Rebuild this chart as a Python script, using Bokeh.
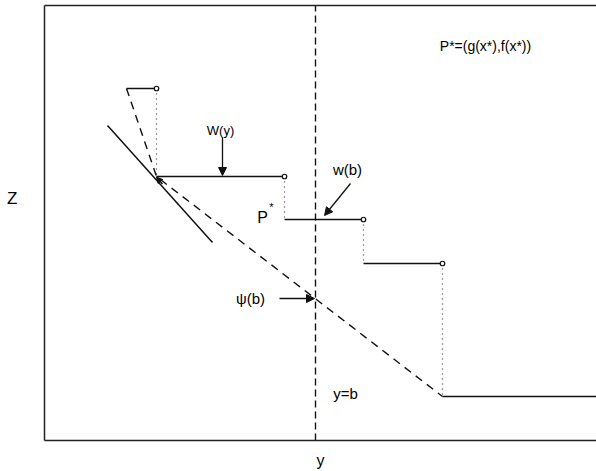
from bokeh.plotting import figure
from bokeh.models import LinearAxis, FixedTicker, Arrow, NormalHead, Range1d, ColumnDataSource
from bokeh.core.properties import value
from bokeh.embed import file_html
from bokeh.resources import INLINE

FONT = "Liberation Sans"

# ---- data (abstract y / Z units) ----
step_x = [82, 112, 240, 319, 398, 552]      # breakpoints of the step function w(y)
step_z = [352, 264, 221, 177, 44]           # levels of each step
psi_x = [82, 112, 398]                      # dashed envelope psi
psi_z = [352, 264, 44]
tangent_x = [63, 168]                       # solid supporting line
tangent_z = [315, 198]
b_value = 271                               # y = b
arrow_x0 = [178, 306, 235, 118]
arrow_z0 = [303, 257, 142, 256.5]
arrow_x1 = [178, 280, 270, 112]
arrow_z1 = [265, 225, 142, 263.5]
label_text = ["W(y)", "w(b)", "P", "*", "\u03c8(b)", "y=b", "P*=(g(x*),f(x*))"]
label_x = [176, 303, 218, 227, 206, 301, 441]
label_z = [310, 271, 223, 234, 142, 47, 395]
label_size = ["13px", "15px", "16px", "11px", "15px", "15px", "14px"]

p = figure(width=596, height=471, x_range=Range1d(0, 552), y_range=Range1d(0, 435),
           output_backend="svg", toolbar_location=None,
           min_border_left=44, min_border_right=0, min_border_top=5, min_border_bottom=31,
           x_axis_label="y", y_axis_label="Z\n\n")
p.outline_line_color = None
p.grid.visible = False

top = LinearAxis()
p.add_layout(top, "above")
for ax in p.axis:
    ax.ticker = FixedTicker(ticks=[])
    ax.major_tick_out = 0
    ax.major_tick_in = 0
    ax.minor_tick_out = 0
    ax.minor_tick_in = 0
    ax.major_label_standoff = 0
    ax.axis_line_width = 1.5
    ax.axis_line_color = "#222222"
    ax.axis_label_text_font = FONT
    ax.axis_label_text_font_style = "normal"
    ax.axis_label_text_color = "black"
p.yaxis.axis_label_orientation = "horizontal"
p.yaxis.axis_label_text_font_size = "17px"
p.yaxis.axis_label_text_line_height = 1.3
p.yaxis.axis_label_standoff = 27
p.xaxis.axis_label_text_font_size = "16px"
p.xaxis.axis_label_text_line_height = 1.0
p.xaxis.axis_label_standoff = 11
top.axis_label = None

# step segments
n = len(step_z)
p.segment(x0=step_x[:n], y0=step_z, x1=step_x[1:n + 1], y1=step_z,
          line_color="#111111", line_width=1.4)
# dotted vertical connectors
p.segment(x0=step_x[1:n], y0=step_z[:n - 1], x1=step_x[1:n], y1=step_z[1:n],
          line_color="#333333", line_width=1.2, line_dash="1 4")
# open circles at right ends
p.scatter(x=step_x[1:n], y=step_z[:n - 1], marker="circle", size=4.5,
          fill_color="white", line_color="#111111", line_width=1.2)

# dashed psi envelope
p.line(psi_x, psi_z, line_color="#111111", line_width=1.4, line_dash="8 6")
# tangent line
p.line(tangent_x, tangent_z, line_color="#111111", line_width=1.5)
# vertical dashed y = b
p.line([b_value, b_value], [0, 435], line_color="#111111", line_width=1.4, line_dash="7 4")

# arrows
for i in range(len(arrow_x0)):
    hs = 8 if i < 3 else 6
    p.add_layout(Arrow(x_start=arrow_x0[i], y_start=arrow_z0[i],
                       x_end=arrow_x1[i], y_end=arrow_z1[i],
                       line_color="#111111", line_width=1.3,
                       end=NormalHead(size=hs, fill_color="#111111", line_color="#111111")))

# labels
src = ColumnDataSource(dict(x=label_x, y=label_z, text=label_text, size=label_size))
p.text(x="x", y="y", text="text", source=src, text_font=value(FONT),
       text_font_size="size", text_align="center", text_baseline="middle",
       text_color="black")

open("out.html", "w").write(file_html(p, INLINE))
